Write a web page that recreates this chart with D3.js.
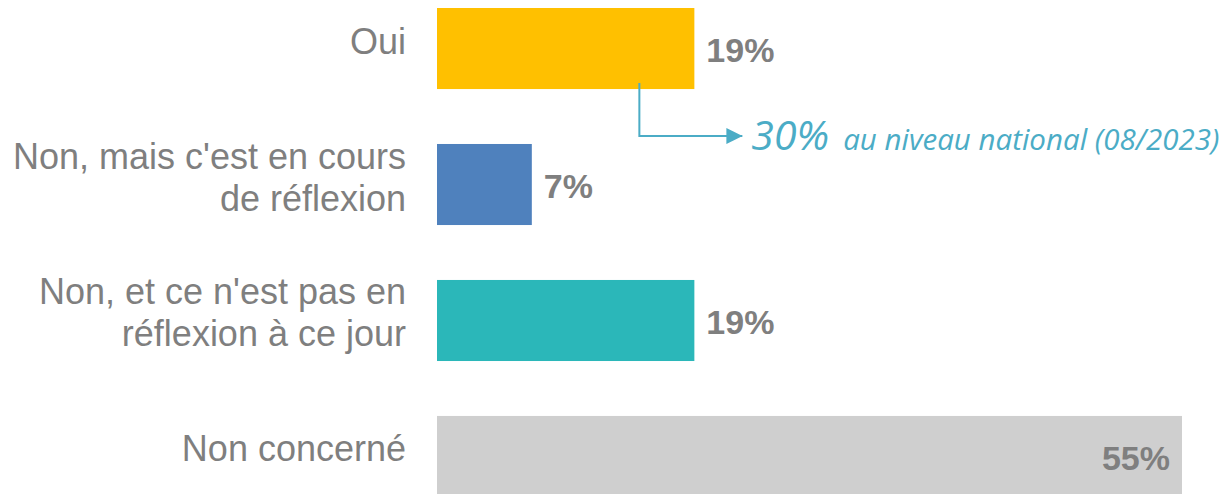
<!DOCTYPE html>
<html>
<head>
<meta charset="utf-8">
<script src="https://cdn.jsdelivr.net/npm/d3@7"></script>
<style>
  html, body { margin: 0; padding: 0; background: #ffffff; }
  svg { display: block; }
</style>
</head>
<body>
<svg id="chart" width="1228" height="494"></svg>
<script>
// Survey answers, one bar per answer
const categories = ["Oui", "Non, mais c'est en cours de réflexion", "Non, et ce n'est pas en réflexion à ce jour", "Non concerné"];
const categoryLines = [["Oui"], ["Non, mais c'est en cours", "de réflexion"], ["Non, et ce n'est pas en", "réflexion à ce jour"], ["Non concerné"]];
const values = [19, 7, 19, 55];
const valueLabels = ["19%", "7%", "19%", "55%"];
const barColors = ["#FFC000", "#4F81BD", "#2BB7B9", "#CFCFCF"];

// National reference shown next to the "Oui" bar
const nationalLabel = "30%";
const nationalNote = "au niveau national (08/2023)";

const W = 1228, H = 494;
const textGrey = "#7F7F7F";
const accent = "#4BACC6";

const svg = d3.select("#chart");

const x = d3.scaleLinear().domain([0, 55]).range([437, 1182]);
const y = d3.scaleBand().domain(categories).range([8, 497]).paddingInner(0.404).paddingOuter(0);

const rows = categories.map((c, i) => ({
  cat: c, lines: categoryLines[i], value: values[i], label: valueLabels[i], color: barColors[i]
}));

// bars
svg.append("g").selectAll("rect").data(rows).join("rect")
  .attr("x", x(0))
  .attr("y", d => y(d.cat))
  .attr("width", d => x(d.value) - x(0))
  .attr("height", y.bandwidth())
  .attr("fill", d => d.color);

// category labels, right aligned against the bars
const catG = svg.append("g")
  .attr("font-family", "'Liberation Sans', Arial, sans-serif")
  .attr("font-size", 36)
  .attr("fill", textGrey)
  .attr("text-anchor", "end");

rows.forEach(d => {
  const cy = y(d.cat) + y.bandwidth() / 2;
  const n = d.lines.length;
  const t = catG.append("text");
  d.lines.forEach((line, j) => {
    t.append("tspan")
      .attr("x", x(0) - 31)
      .attr("y", cy + 5 + (j - (n - 1) / 2) * 42)
      .text(line);
  });
});

// value labels: outside the bar, or inside for the long one
svg.append("g")
  .attr("font-family", "'Liberation Sans', Arial, sans-serif")
  .attr("font-size", 34)
  .attr("font-weight", "bold")
  .attr("fill", textGrey)
  .selectAll("text").data(rows).join("text")
  .attr("x", d => d.value > 40 ? x(d.value) - 12 : x(d.value) + 12)
  .attr("text-anchor", d => d.value > 40 ? "end" : "start")
  .attr("y", d => y(d.cat) + y.bandwidth() / 2 + 13.5)
  .text(d => d.label);

// elbow connector from the "Oui" bar to the national figure
const bx = x(values[0]) - 55;
const by0 = y(categories[0]) + y.bandwidth() - 6;
const by1 = y(categories[0]) + y.bandwidth() + 47;
const tipX = bx + 103;

svg.append("defs").append("marker")
  .attr("id", "arrow")
  .attr("viewBox", "0 0 10 10")
  .attr("refX", 10).attr("refY", 5)
  .attr("markerWidth", 8).attr("markerHeight", 8)
  .attr("markerUnits", "strokeWidth")
  .attr("orient", "auto")
  .append("path").attr("d", "M0,0 L10,5 L0,10 Z").attr("fill", accent);

svg.append("path")
  .attr("d", d3.line()([[bx, by0], [bx, by1], [tipX, by1]]))
  .attr("fill", "none")
  .attr("stroke", accent)
  .attr("stroke-width", 2)
  .attr("marker-end", "url(#arrow)");

const noteBase = by1 + 14;
const big = svg.append("text")
  .attr("x", tipX + 9)
  .attr("y", noteBase)
  .attr("font-family", "'Open Sans', sans-serif")
  .attr("font-style", "italic")
  .attr("font-size", 41)
  .attr("fill", accent)
  .text(nationalLabel);

const bigEnd = tipX + 9 + big.node().getComputedTextLength();
const small = svg.append("text")
  .attr("x", bigEnd + 14)
  .attr("y", noteBase)
  .attr("font-family", "'Open Sans', sans-serif")
  .attr("font-style", "italic")
  .attr("font-size", 29.5)
  .attr("fill", accent)
  .text(nationalNote);

// keep the note inside the right edge
const room = W - 5 - (bigEnd + 14);
const w = small.node().getComputedTextLength();
if (w > room) small.attr("font-size", 29.5 * room / w);
</script>
</body>
</html>
